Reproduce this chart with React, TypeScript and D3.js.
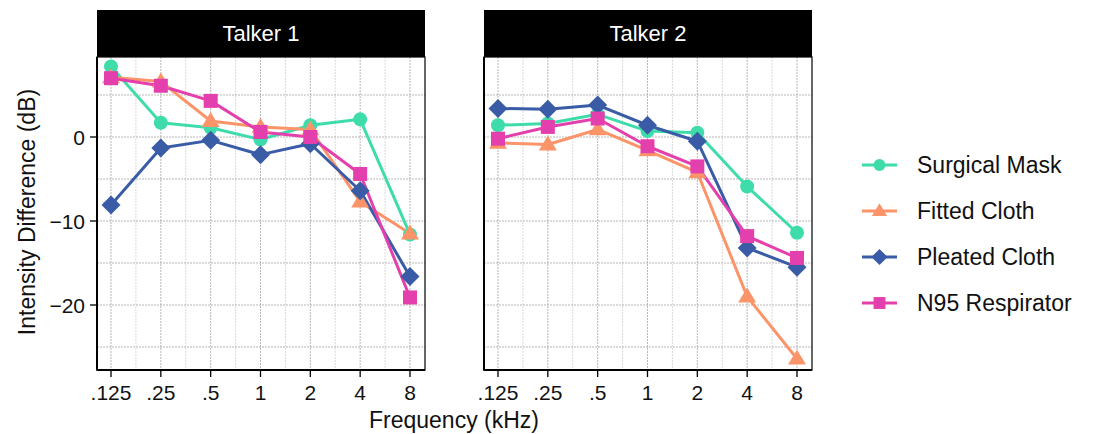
import React from "react";
import * as d3 from "d3";

const freqs = [0.125, 0.25, 0.5, 1, 2, 4, 8];
const freqLabels = [".125", ".25", ".5", "1", "2", "4", "8"];
const talkers = ["Talker 1", "Talker 2"];
const seriesNames = ["Surgical Mask", "Fitted Cloth", "Pleated Cloth", "N95 Respirator"];
const seriesColors = ["#3fdcab", "#fb9469", "#3a5ca7", "#e440ad"];
const seriesShapes = ["circle", "triangle", "diamond", "square"];

// values[talker][series]
const talker1Surgical = [8.4, 1.7, 1.1, -0.3, 1.4, 2.1, -11.6];
const talker1Fitted = [7.1, 6.6, 1.9, 1.2, 0.9, -7.7, -11.5];
const talker1Pleated = [-8.1, -1.3, -0.4, -2.1, -0.8, -6.4, -16.6];
const talker1N95 = [7.0, 6.1, 4.3, 0.6, 0.0, -4.4, -19.1];
const talker2Surgical = [1.4, 1.6, 2.7, 0.7, 0.5, -5.9, -11.4];
const talker2Fitted = [-0.7, -0.9, 0.9, -1.6, -4.2, -19.0, -26.4];
const talker2Pleated = [3.4, 3.3, 3.8, 1.4, -0.5, -13.2, -15.5];
const talker2N95 = [-0.2, 1.2, 2.2, -1.1, -3.5, -11.8, -14.4];

const data = [
  [talker1Surgical, talker1Fitted, talker1Pleated, talker1N95],
  [talker2Surgical, talker2Fitted, talker2Pleated, talker2N95],
];

const yTicks = [0, -10, -20];
const yGrid = [5, 0, -5, -10, -15, -20, -25];

const panelLefts = [97, 484];
const panelWidth = 328;
const headerTop = 10;
const plotTop = 57;
const plotBottom = 370;
const font = "'Liberation Sans', Arial, sans-serif";

function Marker(props: { shape: string; x: number; y: number; color: string; s?: number }) {
  const { shape, x, y, color } = props;
  const s = props.s ?? 1;
  if (shape === "circle") return <circle cx={x} cy={y} r={7 * s} fill={color} />;
  if (shape === "square") return <rect x={x - 7 * s} y={y - 7 * s} width={14 * s} height={14 * s} fill={color} />;
  if (shape === "diamond") {
    const r = 9.5 * s;
    return <path d={`M${x},${y - r}L${x + r},${y}L${x},${y + r}L${x - r},${y}Z`} fill={color} />;
  }
  const r = 9 * s;
  return <path d={`M${x},${y - r}L${x + r},${y + r * 0.65}L${x - r},${y + r * 0.65}Z`} fill={color} />;
}

export default function App() {
  const yScale = d3.scaleLinear().domain([0, -10]).range([137, 221]);

  const panels = talkers.map((talker, ti) => {
    const left = panelLefts[ti];
    const xScale = d3.scaleLog().base(2).domain([0.125, 8]).range([left + 14, left + 313]);
    const minorX = freqs.slice(0, -1).map((f) => xScale(f * Math.SQRT2));
    const line = d3
      .line<number>()
      .x((_, i) => xScale(freqs[i]))
      .y((v) => yScale(v));
    return (
      <g key={talker}>
        <rect x={left} y={headerTop} width={panelWidth} height={plotTop - headerTop} fill="#000" />
        <text x={left + panelWidth / 2} y={41} fill="#fff" fontSize={22} textAnchor="middle" fontFamily={font}>
          {talker}
        </text>
        {minorX.map((x, i) => (
          <line key={"mx" + i} x1={x} x2={x} y1={plotTop} y2={plotBottom} stroke="#c8c8c8" strokeWidth={0.7} strokeDasharray="2,1" />
        ))}
        {freqs.map((f) => (
          <line key={"gx" + f} x1={xScale(f)} x2={xScale(f)} y1={plotTop} y2={plotBottom} stroke="#999" strokeWidth={0.7} strokeDasharray="2,1" />
        ))}
        {yGrid.map((v) => (
          <line key={"gy" + v} x1={left} x2={left + panelWidth} y1={yScale(v)} y2={yScale(v)} stroke="#999" strokeWidth={0.7} strokeDasharray="2,1" />
        ))}
        {data[ti].map((vals, si) => (
          <path key={"l" + si} d={line(vals) ?? ""} fill="none" stroke={seriesColors[si]} strokeWidth={3} strokeLinejoin="round" />
        ))}
        {data[ti].map((vals, si) =>
          vals.map((v, i) => (
            <Marker key={"m" + si + "-" + i} shape={seriesShapes[si]} x={xScale(freqs[i])} y={yScale(v)} color={seriesColors[si]} />
          ))
        )}
        <rect x={left} y={plotTop} width={panelWidth} height={plotBottom - plotTop} fill="none" stroke="#000" strokeWidth={1.2} />
        <line x1={left} x2={left} y1={plotTop} y2={plotBottom + 0.6} stroke="#000" strokeWidth={2} />
        <line x1={left} x2={left + panelWidth} y1={plotBottom} y2={plotBottom} stroke="#000" strokeWidth={2} />
        {freqs.map((f, i) => (
          <g key={"t" + f}>
            <line x1={xScale(f)} x2={xScale(f)} y1={plotBottom} y2={plotBottom + 7} stroke="#000" strokeWidth={1.3} />
            <text x={xScale(f)} y={400} fontSize={21} textAnchor="middle" fontFamily={font} fill="#111">
              {freqLabels[i]}
            </text>
          </g>
        ))}
        {ti === 0 &&
          yTicks.map((v) => (
            <g key={"yt" + v}>
              <line x1={left - 7} x2={left} y1={yScale(v)} y2={yScale(v)} stroke="#000" strokeWidth={1.3} />
              <text x={left - 12} y={yScale(v) + 7.5} fontSize={21} textAnchor="end" fontFamily={font} fill="#111">
                {v < 0 ? "\u2212" + Math.abs(v) : String(v)}
              </text>
            </g>
          ))}
      </g>
    );
  });

  return (
    <svg width={1094} height={434} style={{ position: "absolute", left: 0, top: 0, background: "#fff" }}>
      {panels}
      <text x={454} y={428} fontSize={23} textAnchor="middle" fontFamily={font} fill="#111">
        Frequency (kHz)
      </text>
      <text transform="translate(35,212) rotate(-90)" fontSize={23} textAnchor="middle" fontFamily={font} fill="#111">
        Intensity Difference (dB)
      </text>
      {seriesNames.map((name, si) => {
        const y = 165 + si * 46;
        return (
          <g key={name}>
            <line x1={862} x2={897} y1={y} y2={y} stroke={seriesColors[si]} strokeWidth={3} />
            <Marker shape={seriesShapes[si]} x={879.5} y={y} color={seriesColors[si]} s={0.85} />
            <text x={917} y={y + 8} fontSize={23} fontFamily={font} fill="#111">
              {name}
            </text>
          </g>
        );
      })}
    </svg>
  );
}
